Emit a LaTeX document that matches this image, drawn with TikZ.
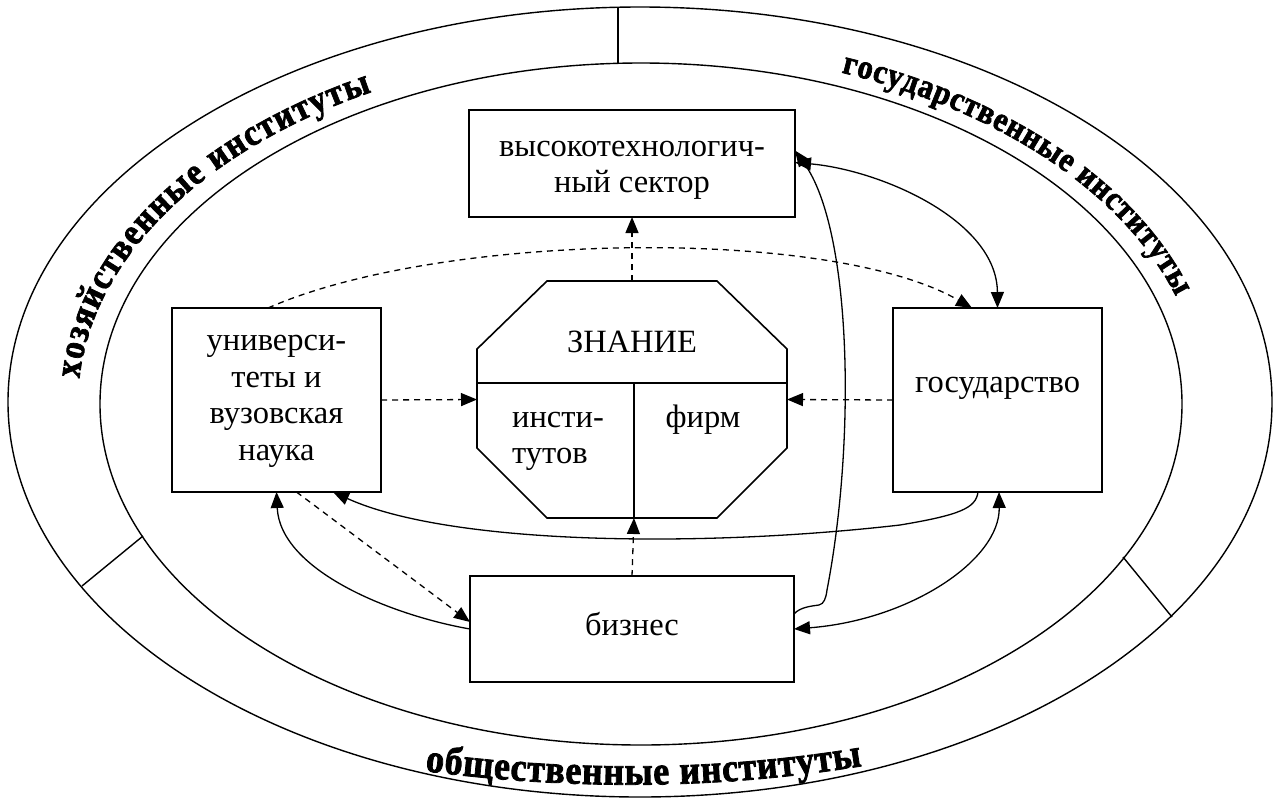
\documentclass[tikz,border=0pt]{standalone}
\usepackage{fontspec}
\setmainfont{Liberation Serif}
\newfontfamily\labfont{Liberation Serif}[BoldFeatures={FakeBold=2,FakeStretch=0.9}]
\usetikzlibrary{arrows.meta,decorations.text,calc}
\newcommand\labA{\labfont\bfseries\fontsize{37}{37}\selectfont}
\newcommand\labB{\labfont\bfseries\fontsize{34}{34}\selectfont}
\newcommand\labC{\labfont\bfseries\fontsize{40}{40}\selectfont}
\begin{document}
\begin{tikzpicture}[x=1pt,y=-1pt,
  boxnode/.style={draw, line width=1.6pt, inner sep=0pt, outer sep=0pt},
  txt/.style={font=\fontsize{32.5}{36}\selectfont, inner sep=0pt, anchor=base},
  ring/.style={line width=1.4pt},
  tip/.tip={Triangle[length=16pt,width=13pt]},
  conn/.style={line width=1.3pt, -tip},
  biconn/.style={line width=1.3pt, tip-tip},
  dconn/.style={conn, dash pattern=on 6pt off 5pt}
]
\useasboundingbox (0,0) rectangle (1279,801);

% rings
\draw[ring] (640,402) ellipse [x radius=632, y radius=395];
\draw[ring] (641,404) ellipse [x radius=541, y radius=341];
\draw[ring] (618,8) -- (618,63);
\draw[ring] (82,586) -- (143,536);
\draw[ring] (1123,557) -- (1172,617);

% ring labels
\path[decorate, decoration={text along path, text align={fit to path},
  text={|\labA|хозяйственные институты}}]
  plot[domain=184:241.5, samples=80] ({640+562*cos(\x)},{403+354*sin(\x)});
\path[decorate, decoration={text along path, text align={fit to path},
  text={|\labB|государственные институты}}]
  plot[domain=291:342.5, samples=80] ({640+562*cos(\x)},{403+354*sin(\x)});
\path[decorate, decoration={text along path, text align={fit to path},
  text={|\labC|общественные институты}}]
  (425,771) .. controls (570,790) and (715,790) .. (862,766);

% boxes
\node[boxnode, minimum width=326pt, minimum height=107pt] (ht) at (632,163.5) {};
\node[boxnode, minimum width=209pt, minimum height=184pt] (univ) at (276.5,400) {};
\node[boxnode, minimum width=209pt, minimum height=184pt] (gov) at (997.5,400) {};
\node[boxnode, minimum width=324pt, minimum height=106pt] (bus) at (632,629) {};
\node[inner sep=0pt, outer sep=0pt, minimum width=310pt, minimum height=237pt] (kn) at (632,399.5) {};

% octagon
\draw[line width=1.6pt] ([xshift=70pt]kn.north west) -- ([xshift=-70pt]kn.north east)
  -- ([yshift=-68pt]kn.north east) -- ([yshift=70pt]kn.south east)
  -- ([xshift=-70pt]kn.south east) -- ([xshift=70pt]kn.south west)
  -- ([yshift=70pt]kn.south west) -- ([yshift=-68pt]kn.north west) -- cycle;
\draw[line width=1.6pt] ([yshift=-102pt]kn.north west) -- ([yshift=-102pt]kn.north east);
\draw[line width=1.6pt] ([yshift=-102pt,xshift=2pt]kn.north) -- ([xshift=2pt]kn.south);

% texts
\node[txt] (ht1) at (632,156) {высокотехнологич-};
\node[txt] (ht2) at (632,192) {ный сектор};
\node[txt] (u1) at (276.5,350) {универси-};
\node[txt] (u2) at (276.5,387) {теты и};
\node[txt] (u3) at (276.5,423) {вузовская};
\node[txt] (u4) at (276.5,460) {наука};
\node[txt] (g1) at (997.5,392) {государство};
\node[txt] (b1) at (632,635) {бизнес};
\node[txt] (k1) at (632,352) {ЗНАНИЕ};
\node[txt, anchor=base west] (k2) at (512,427) {инсти-};
\node[txt, anchor=base west] (k3) at (512,463) {тутов};
\node[txt] (k4) at (703,427) {фирм};

% dashed connectors
\draw[dconn] (univ.east) -- (kn.west);
\draw[dconn] (gov.west) -- (kn.east);
\draw[dconn] (kn.north) -- (ht.south);
\draw[dconn] (bus.north) -- ([xshift=2pt]kn.south);
\draw[dconn] ([xshift=-8.5pt]univ.north) .. controls (440,232) and (830,226) .. ([xshift=-25.5pt]gov.north);
\draw[dconn] ([xshift=20pt]univ.south) -- ([yshift=7pt]bus.west);

% solid connectors
\draw[biconn] ([yshift=1pt]ht.east) .. controls (880,170) and (997,220) .. (gov.north);
\draw[conn] ([yshift=15pt]bus.east) .. controls (800,607) and (812,606) .. (819,605)
  .. controls (824,604) and (826,598) .. (827,590)
  .. controls (856,440) and (852,230) .. ([yshift=13pt]ht.east);
\draw[conn] ([xshift=-19.5pt]gov.south) .. controls (976,508) and (960,515) .. (900,525)
  .. controls (700,548) and (450,545) .. ([xshift=56.5pt]univ.south);
\draw[biconn] ([xshift=1.5pt]gov.south) .. controls (1000,560) and (910,620) .. (bus.east);
\draw[conn] (bus.west) .. controls (390,615) and (280,570) .. (univ.south);
\end{tikzpicture}
\end{document}
